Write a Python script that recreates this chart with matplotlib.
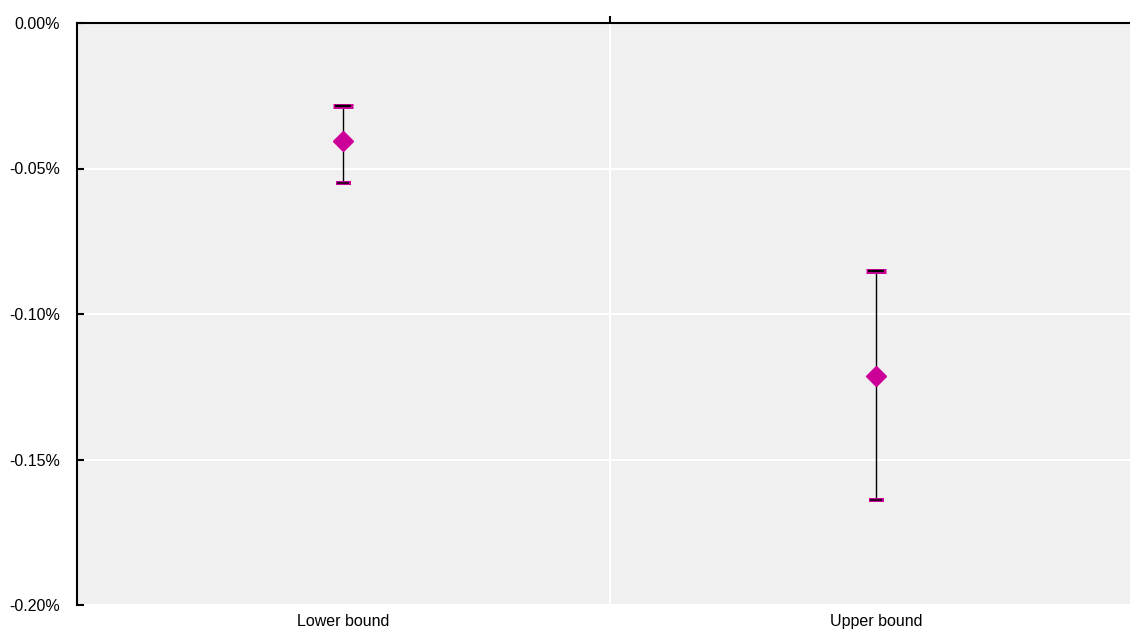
import numpy as np
import matplotlib.pyplot as plt
from matplotlib.ticker import FuncFormatter

plt.rcParams['font.family'] = ['Liberation Sans', 'DejaVu Sans']

categories = ["Lower bound", "Upper bound"]
center = [-0.0405, -0.1213]
upper = [-0.0285, -0.0852]
lower = [-0.0550, -0.1640]

MAGENTA = '#cc0099'
BG = '#f0f0f0'
PX = 0.72  # pixel -> point at dpi 100

fig = plt.figure(figsize=(11.3, 6.3), dpi=100)
ax = fig.add_axes([76.5 / 1130, 1 - 605 / 630, 1066 / 1130, 582 / 630])
ax.set_facecolor(BG)

x = np.arange(len(categories))
# whiskers
ax.vlines(x, lower, upper, color='black', lw=1, zorder=3)
# top caps
ax.plot(x, upper, ls='none', marker='_', ms=20 * PX, mew=5 * PX,
        color=MAGENTA, zorder=4)
ax.plot(x, upper, ls='none', marker='_', ms=16 * PX, mew=2.2 * PX,
        color='black', zorder=5)
# bottom caps
ax.plot(x, lower, ls='none', marker='_', ms=15 * PX, mew=4 * PX,
        color=MAGENTA, zorder=4)
ax.plot(x, lower, ls='none', marker='_', ms=12 * PX, mew=1.5 * PX,
        color='black', zorder=5)
# centre points
ax.plot(x, center, ls='none', marker='D', ms=10, color=MAGENTA,
        mec=MAGENTA, zorder=6)

ax.set_xlim(-0.5, 1.5)
ax.set_ylim(-0.20, 0.0)
ax.set_yticks([0.0, -0.05, -0.10, -0.15, -0.20])
ax.yaxis.set_major_formatter(FuncFormatter(lambda v, p: f"{v:.2f}%"))
ax.set_xticks(x, categories)
ax.set_xticks([0.5], minor=True)
ax.tick_params(axis='x', which='major', length=0, pad=6.5, labelsize=11.5)
ax.tick_params(axis='x', which='minor', bottom=False, top=True,
               length=5, width=1.5, direction='out', color='black')
ax.tick_params(axis='y', length=5, width=1.5, direction='in', pad=12,
               labelsize=11.5)

ax.grid(True, which='major', axis='y', color='white', lw=1.5)
ax.grid(True, which='minor', axis='x', color='white', lw=1.5)
ax.set_axisbelow(True)

for side in ['bottom', 'right']:
    ax.spines[side].set_visible(False)
for side in ['top', 'left']:
    ax.spines[side].set_linewidth(1.5)
    ax.spines[side].set_color('black')

fig.savefig('out.png', dpi=100)
